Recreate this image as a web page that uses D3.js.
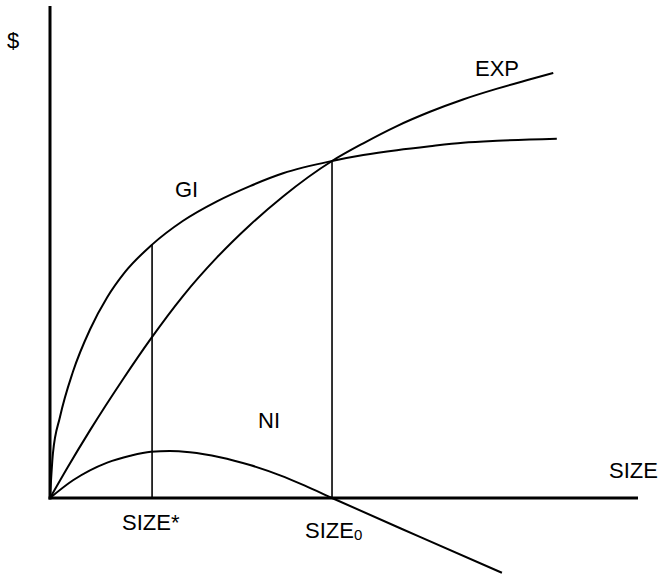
<!DOCTYPE html>
<html>
<head>
<meta charset="utf-8">
<script src="https://cdn.jsdelivr.net/npm/d3@7"></script>
<style>
  html, body { margin: 0; padding: 0; background: #fff; }
  svg { display: block; }
  text { font-family: "Liberation Sans", Arial, sans-serif; fill: #000; }
</style>
</head>
<body>
<svg id="chart" width="661" height="575"></svg>
<script>
// ---- data (abstract units) ----
const giX  = [0, 0.5, 1.7, 3.9, 6.8, 9.7, 12.7, 17.3, 22.5, 28.3, 33.9, 39.5, 47.8, 53.1, 58.8, 64.4, 70.0, 75.8, 85.9];
const giY  = [0, 9.1, 16.5, 25.7, 34.3, 40.8, 45.9, 51.5, 56.3, 60.3, 63.4, 66.0, 68.5, 69.7, 70.7, 71.5, 72.2, 72.6, 73.0];

const expX = [0, 2.9, 6.8, 12.4, 17.1, 22.5, 28.3, 33.9, 39.5, 47.8, 53.1, 58.8, 64.4, 70.0, 75.8, 81.4, 85.3];
const expY = [0, 6.05, 13.8, 24.2, 32.4, 41.0, 48.9, 55.5, 61.3, 68.5, 72.1, 75.6, 78.5, 81.0, 83.2, 85.1, 86.4];

const niX  = [0, 3.9, 9.7, 13.6, 17.1, 20.3, 23.7, 28.8, 33.9, 39.0, 43.2, 47.8, 62.7, 76.6];
const niY  = [0, 3.6, 7.2, 8.6, 9.4, 9.55, 9.3, 8.3, 6.7, 4.6, 2.5, 0, -7.9, -15.2];

const sizeStar = 17.3;   // SIZE*
const sizeZero = 47.8;   // SIZE0
const giAtStar = 51.5;
const giAtZero = 68.5;

const xDomain = [0, 100];
const yDomain = [0, 100];

// ---- drawing ----
const svg = d3.select("#chart");
const x = d3.scaleLinear().domain(xDomain).range([50, 640]);
const y = d3.scaleLinear().domain(yDomain).range([498, 6]);

const line = d3.line()
  .x(d => x(d[0]))
  .y(d => y(d[1]))
  .curve(d3.curveMonotoneX);

function pts(xs, ys) { return xs.map((v, i) => [v, ys[i]]); }

// axes
svg.append("line")
  .attr("x1", x(0)).attr("x2", x(0))
  .attr("y1", y(100)).attr("y2", y(0) + 1.5)
  .attr("stroke", "#000").attr("stroke-width", 3);
svg.append("line")
  .attr("x1", x(0) - 1.5).attr("x2", 638)
  .attr("y1", y(0)).attr("y2", y(0))
  .attr("stroke", "#000").attr("stroke-width", 3);

// vertical guide lines
[[sizeStar, giAtStar], [sizeZero, giAtZero]].forEach(([sx, top]) => {
  svg.append("line")
    .attr("x1", x(sx)).attr("x2", x(sx))
    .attr("y1", y(top)).attr("y2", y(0))
    .attr("stroke", "#000").attr("stroke-width", 1.6);
});

// curves
[[giX, giY], [expX, expY], [niX, niY]].forEach(([xs, ys]) => {
  svg.append("path")
    .attr("d", line(pts(xs, ys)))
    .attr("fill", "none")
    .attr("stroke", "#000")
    .attr("stroke-width", 2);
});

// labels
const fs = 22;
function label(tx, ty, str) {
  return svg.append("text").attr("x", tx).attr("y", ty)
    .attr("font-size", fs).text(str);
}
label(7, 48, "$");
label(175, 197, "GI");
label(475, 76, "EXP");
label(258, 428, "NI");
label(609, 478, "SIZE");
label(122, 530, "SIZE*");
const s0 = svg.append("text").attr("x", 305).attr("y", 538).attr("font-size", fs);
s0.append("tspan").text("SIZE");
s0.append("tspan").attr("font-size", 15).attr("dy", 2).text("0");
</script>
</body>
</html>
